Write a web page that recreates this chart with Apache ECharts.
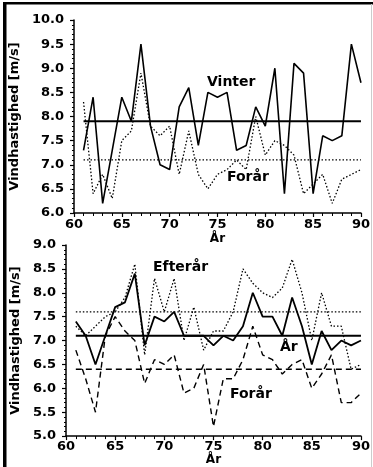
<!DOCTYPE html>
<html>
<head>
<meta charset="utf-8">
<script src="https://cdn.jsdelivr.net/npm/echarts@6/dist/echarts.min.js"></script>
<style>
html,body{margin:0;padding:0;background:#fff;}
#c{width:373px;height:467px;}
</style>
</head>
<body>
<div id="c"></div>
<script>
const years = [61,62,63,64,65,66,67,68,69,70,71,72,73,74,75,76,77,78,79,80,81,82,83,84,85,86,87,88,89,90];
// top panel
const vinter = [7.3,8.4,6.2,7.3,8.4,7.9,9.5,7.8,7.0,6.9,8.2,8.6,7.4,8.5,8.4,8.5,7.3,7.4,8.2,7.8,9.0,6.4,9.1,8.9,6.4,7.6,7.5,7.6,9.5,8.7];
const foraarTop = [8.3,6.4,6.8,6.3,7.5,7.7,8.9,7.8,7.6,7.8,6.8,7.7,6.8,6.5,6.8,6.9,7.1,6.9,8.0,7.2,7.5,7.4,7.2,6.4,6.6,6.8,6.2,6.7,6.8,6.9];
const vinterMean = 7.9;
const foraarTopMean = 7.1;
// bottom panel
const aar = [7.4,7.1,6.5,7.1,7.7,7.8,8.4,6.9,7.5,7.4,7.6,7.1,7.1,7.1,6.9,7.1,7.0,7.3,8.0,7.5,7.5,7.1,7.9,7.3,6.5,7.2,6.8,7.0,6.9,7.0];
const efteraar = [7.3,7.1,7.3,7.5,7.6,7.9,8.6,6.7,8.3,7.6,8.3,7.0,7.7,6.8,7.2,7.2,7.6,8.5,8.2,8.0,7.9,8.1,8.7,8.0,7.0,8.0,7.3,7.3,6.4,6.5];
const foraarBot = [6.8,6.2,5.5,7.1,7.5,7.2,7.0,6.1,6.6,6.5,6.7,5.9,6.0,6.5,5.2,6.2,6.2,6.6,7.3,6.7,6.6,6.3,6.5,6.6,6.0,6.3,6.7,5.7,5.7,5.9];
const aarMean = 7.1;
const efteraarMean = 7.6;
const foraarBotMean = 6.4;

const xTicks = [60,65,70,75,80,85,90];
const yTitle = 'Vindhastighed [m/s]';
const xTitle = 'År';

const FONT = 'DejaVu Sans';
const pts = arr => years.map((y,i)=>[y,arr[i]]);
const meanPts = m => [[years[0],m],[years[years.length-1],m]];

function xAxis(gi, labelMargin, nameGap){
  return {
    type:'value', gridIndex:gi, min:xTicks[0], max:xTicks[xTicks.length-1], interval:5,
    axisLine:{lineStyle:{color:'#000',width:1.5}},
    axisTick:{show:true,length:4,lineStyle:{color:'#000',width:1.2}},
    minorTick:{show:true,splitNumber:5,length:3,lineStyle:{color:'#000',width:1}},
    splitLine:{show:false},
    axisLabel:{color:'#000',fontFamily:FONT,fontWeight:'bold',fontSize:13,margin:labelMargin},
    name:xTitle, nameLocation:'middle', nameGap:nameGap,
    nameTextStyle:{color:'#000',fontFamily:FONT,fontWeight:'bold',fontSize:12}
  };
}
function yAxis(gi, min, max){
  return {
    type:'value', gridIndex:gi, min:min, max:max, interval:0.5,
    axisLine:{show:true,lineStyle:{color:'#000',width:1.5}},
    axisTick:{show:true,length:4,lineStyle:{color:'#000',width:1.2}},
    minorTick:{show:true,splitNumber:5,length:2,lineStyle:{color:'#000',width:1}},
    splitLine:{show:false},
    axisLabel:{color:'#000',fontFamily:FONT,fontWeight:'bold',fontSize:13,margin:10,
      formatter:v=>v.toFixed(1)},
    name:yTitle, nameLocation:'middle', nameGap:44, nameRotate:90,
    nameTextStyle:{color:'#000',fontFamily:FONT,fontWeight:'bold',fontSize:13}
  };
}
function line(gi, data, type, width){
  return {type:'line', xAxisIndex:gi, yAxisIndex:gi, data:data, showSymbol:false, symbol:'none',
    silent:true, animation:false,
    lineStyle:{color:'#000', width:width, type:type}};
}
const DOT=[1.5,2], DASH=[6,4];
const annot = (text,x,y)=>({type:'text',left:x,top:y-8,
  style:{text:text,fill:'#000',font:'bold 14px "DejaVu Sans"'}});

const chart = echarts.init(document.getElementById('c'),null,{renderer:'canvas'});
chart.setOption({
  backgroundColor:'#fff',
  animation:false,
  grid:[
    {left:66, top:20, width:296, height:193},
    {left:66, top:245, width:296, height:197}
  ],
  xAxis:[xAxis(0,5,20), xAxis(1,4,15)],
  yAxis:[yAxis(0,6,10), yAxis(1,5,9)],
  series:[
    line(0, pts(vinter), 'solid', 1.6),
    line(0, pts(foraarTop), DOT, 1.3),
    line(0, meanPts(vinterMean), 'solid', 2),
    line(0, meanPts(foraarTopMean), DOT, 1.3),
    line(1, pts(aar), 'solid', 1.8),
    line(1, pts(efteraar), DOT, 1.3),
    line(1, pts(foraarBot), DASH, 1.4),
    line(1, meanPts(aarMean), 'solid', 2),
    line(1, meanPts(efteraarMean), DOT, 1.3),
    line(1, meanPts(foraarBotMean), DASH, 1.4)
  ],
  graphic:[
    annot('Vinter',207,83),
    annot('Forår',227,178),
    annot('Efterår',153,268),
    annot('År',280,348),
    annot('Forår',230,395),
    {type:'rect',shape:{x:3,y:2,width:3.5,height:465},style:{fill:'#000'}},
    {type:'rect',shape:{x:3,y:2,width:370,height:2.5},style:{fill:'#000'}},
    {type:'rect',shape:{x:371,y:4,width:1,height:463},style:{fill:'#ccc'}}
  ]
});
</script>
</body>
</html>
